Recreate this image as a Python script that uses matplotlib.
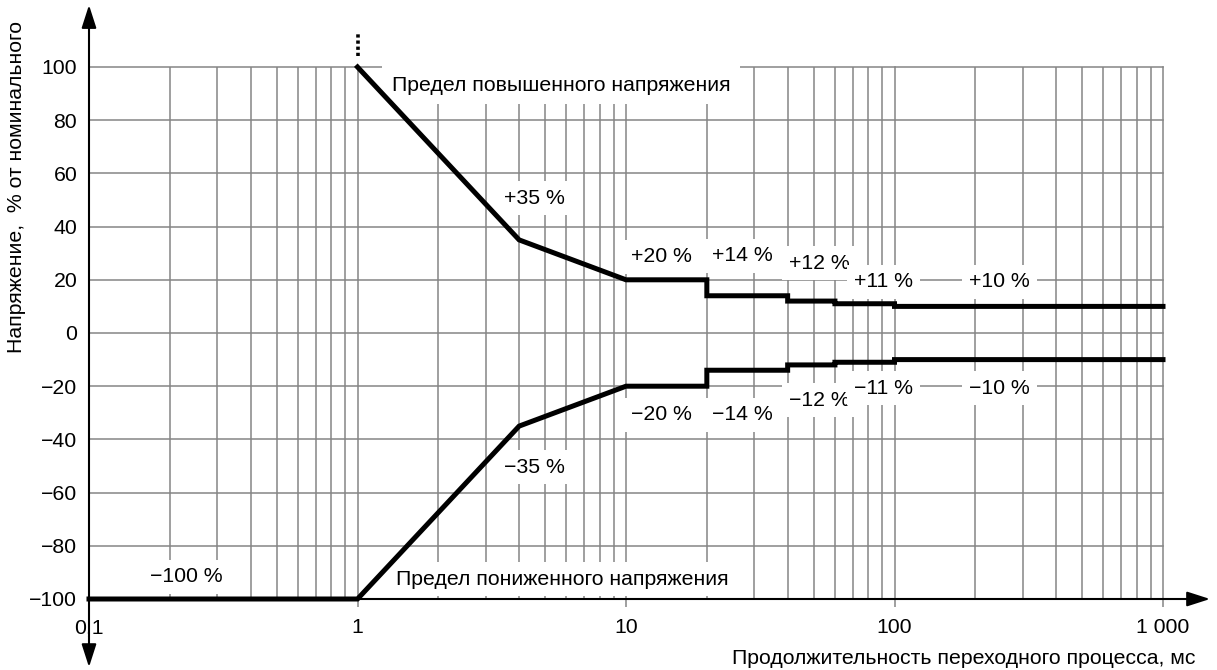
import matplotlib
matplotlib.use("Agg")
import matplotlib.pyplot as plt
from matplotlib.ticker import FixedLocator, NullFormatter, NullLocator

plt.rcParams['font.family'] = ['Liberation Sans', 'DejaVu Sans']
plt.rcParams['axes.unicode_minus'] = True

# ---- data ----
upper_x = [1, 4, 10, 20, 20, 40, 40, 60, 60, 100, 100, 1000]
upper_y = [100, 35, 20, 20, 14, 14, 12, 12, 11, 11, 10, 10]
lower_x = [0.1, 1, 4, 10, 20, 20, 40, 40, 60, 60, 100, 100, 1000]
lower_y = [-100, -100, -35, -20, -20, -14, -14, -12, -12, -11, -11, -10, -10]

x_major = [0.1, 1, 10, 100, 1000]
x_major_labels = ["0,1", "1", "10", "100", "1 000"]
y_ticks = [-100, -80, -60, -40, -20, 0, 20, 40, 60, 80, 100]
y_tick_labels = ["\u2212100", "\u221280", "\u221260", "\u221240", "\u221220", "0",
                 "20", "40", "60", "80", "100"]

label_texts = ["+35 %", "+20 %", "+14 %", "+12 %", "+11 %", "+10 %",
               "\u221235 %", "\u221220 %", "\u221214 %", "\u221212 %", "\u221211 %", "\u221210 %",
               "\u2212100 %"]
label_x = [4.56, 13.6, 27.2, 52.6, 91, 246,
           4.56, 13.6, 27.2, 52.6, 91, 246,
           0.2307]
label_y = [50.7, 28.6, 29, 26.3, 19.2, 19.2,
           -50.4, -30.8, -30.8, -25.2, -20.7, -20.7,
           -91.7]

upper_title = "Предел повышенного напряжения"
lower_title = "Предел пониженного напряжения"
xlabel = "Продолжительность переходного процесса, мс"
ylabel = "Напряжение,  % от номинального"

FS = 15.3

# ---- figure ----
W, H = 1217, 670
fig = plt.figure(figsize=(W / 100, H / 100), dpi=100)
ax = fig.add_axes([89 / W, 71 / H, (1163 - 89) / W, (599 - 67) / H])
ax.set_xscale('log')
ax.set_xlim(0.1, 1000)
ax.set_ylim(-100, 100)

for s in ax.spines.values():
    s.set_visible(False)

# grid
minor = [m * 10.0 ** e for e in range(-1, 3) for m in range(2, 10)]
ax.xaxis.set_major_locator(FixedLocator(x_major))
ax.xaxis.set_minor_locator(FixedLocator(minor))
ax.xaxis.set_minor_formatter(NullFormatter())
ax.set_xticklabels(x_major_labels)
ax.set_yticks(y_ticks)
ax.set_yticklabels(y_tick_labels)
ax.yaxis.set_minor_locator(NullLocator())

ax.grid(True, which='both', axis='x', color='#858585', lw=1.1)
ax.grid(True, which='major', axis='y', color='#858585', lw=1.1)
for gl in ax.get_xgridlines() + ax.get_ygridlines():
    gl.set_clip_on(False)
ax.set_axisbelow(True)

ax.tick_params(axis='y', length=0, pad=8.5, labelsize=FS)
ax.tick_params(axis='x', which='major', length=6, width=1.1, color='#858585',
               direction='out', pad=8, labelsize=FS)
ax.tick_params(axis='x', which='minor', length=0)
for t in ax.get_xticklabels():
    if t.get_text() == "0,1":
        t.set_bbox(dict(facecolor='white', edgecolor='none', pad=0.5))
        t.set_zorder(5)

# axes with arrows
ax.annotate('', xy=(1.0438, 0), xytext=(0, 0), xycoords='axes fraction',
            textcoords='axes fraction',
            arrowprops=dict(arrowstyle='-|>,head_length=14,head_width=4.5',
                            mutation_scale=1, color='black', lw=1.5,
                            shrinkA=0, shrinkB=0), zorder=3)
ax.annotate('', xy=(0, 1.1165), xytext=(0, -0.128), xycoords='axes fraction',
            textcoords='axes fraction',
            arrowprops=dict(arrowstyle='<|-|>,head_length=14,head_width=4.5',
                            mutation_scale=1, color='black', lw=1.5,
                            shrinkA=0, shrinkB=0), zorder=3)

# curves
ax.plot(upper_x, upper_y, color='black', lw=3.6, solid_joinstyle='miter',
        clip_on=False, zorder=4)
ax.plot(lower_x, lower_y, color='black', lw=3.6, solid_joinstyle='miter',
        clip_on=False, zorder=4)
ax.plot([1, 1], [104, 113], color='black', lw=2.6, ls=(0, (0.9, 0.8)),
        clip_on=False, zorder=4)

box = dict(boxstyle='square,pad=0.35', facecolor='white', edgecolor='none')
for t, x, y in zip(label_texts, label_x, label_y):
    ax.text(x, y, t, ha='center', va='center', fontsize=FS, bbox=box, zorder=3)

ax.text(1.34, 93.2, upper_title, ha='left', va='center', fontsize=FS,
        bbox=dict(boxstyle='square,pad=0.45', facecolor='white', edgecolor='none'), zorder=3)
ax.text(1.39, -92.5, lower_title, ha='left', va='center', fontsize=FS,
        bbox=dict(boxstyle='square,pad=0.35', facecolor='white', edgecolor='none'), zorder=3)

fig.text(1195 / W, 1 - 658 / H, xlabel, ha='right', va='center', fontsize=FS)
fig.text(17 / W, 1 - 187 / H, ylabel, ha='center', va='center', fontsize=FS,
         rotation=90)

fig.savefig('out.png', dpi=100, facecolor='white')
